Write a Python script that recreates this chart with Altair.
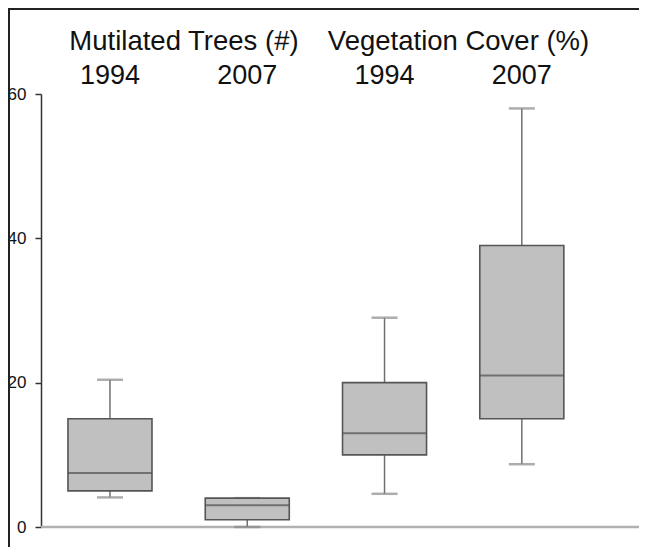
import altair as alt
import pandas as pd

# ---- data ----
groups = ["Mutilated Trees (#)", "Mutilated Trees (#)", "Vegetation Cover (%)", "Vegetation Cover (%)"]
years = ["1994", "2007", "1994", "2007"]
whisker_low = [4.1, 0.0, 4.6, 8.7]
q1 = [5.0, 1.0, 10.0, 15.0]
median = [7.5, 3.0, 13.0, 21.0]
q3 = [15.0, 4.0, 20.0, 39.0]
whisker_high = [20.4, 4.0, 29.0, 58.0]
y_ticks = [0, 20, 40, 60]
header_names = ["Mutilated Trees (#)", "Vegetation Cover (%)"]

keys = [f"{g}|{y}" for g, y in zip(groups, years)]
df = pd.DataFrame({
    "key": keys, "group": groups, "year": years,
    "lo": whisker_low, "q1": q1, "med": median, "q3": q3, "hi": whisker_high,
})
header_df = pd.DataFrame({"group": header_names, "key": [keys[0], keys[2]]})
frame_df = pd.DataFrame({"a": [0]})

FONT = "Liberation Sans"

x_scale = alt.Scale(domain=keys, paddingInner=0.388, paddingOuter=0.372, align=0.264)
y_scale = alt.Scale(domain=[0, 60], nice=False, zero=True)

x_axis = alt.Axis(
    orient="top", title=None, domain=False, ticks=False, tickSize=0,
    labelExpr="split(datum.label, '|')[1]", labelAngle=0,
    labelFontSize=27, labelFont=FONT, labelColor="#111111",
    labelPadding=11, labelBaseline="alphabetic",
)
y_axis = alt.Axis(
    values=y_ticks, title=None, grid=False,
    domainColor="#333333", domainWidth=1.5,
    tickColor="#333333", tickWidth=1.5, tickSize=6,
    labelFontSize=17, labelFont=FONT, labelColor="#111111", labelPadding=9,
)

base = alt.Chart(df)
X = alt.X("key:N", scale=x_scale, sort=keys, axis=x_axis)

whisk_lo = base.mark_rule(color="#707070", strokeWidth=1.5).encode(
    x=X, y=alt.Y("lo:Q", scale=y_scale, axis=y_axis), y2="q1:Q")
whisk_hi = base.mark_rule(color="#707070", strokeWidth=1.5).encode(
    x=X, y=alt.Y("q3:Q", scale=y_scale), y2="hi:Q")
cap_lo = base.mark_tick(color="#8a8a8a", size=26, thickness=2.5).encode(
    x=X, y=alt.Y("lo:Q", scale=y_scale))
cap_hi = base.mark_tick(color="#8a8a8a", size=26, thickness=2.5).encode(
    x=X, y=alt.Y("hi:Q", scale=y_scale))
box = base.mark_bar(fill="#c0c0c0", stroke="#555555", strokeWidth=1.6).encode(
    x=X, y=alt.Y("q1:Q", scale=y_scale), y2="q3:Q")
med = base.mark_tick(color="#505050", size=84, thickness=2).encode(
    x=X, y=alt.Y("med:Q", scale=y_scale))

baseline = alt.Chart(frame_df).mark_rule(color="#b0b0b0", strokeWidth=2.5).encode(
    y=alt.datum(0))

headers = alt.Chart(header_df).mark_text(
    font=FONT, fontSize=27.5, color="#111111", align="center",
    baseline="alphabetic", dx=74, dy=-44,
).encode(x=alt.X("key:N", scale=x_scale, sort=keys), y=alt.datum(60), text="group:N")

frame_left = alt.Chart(frame_df).mark_rect(color="#222222").encode(
    x=alt.value(-33), x2=alt.value(-31), y=alt.value(-86), y2=alt.value(470))
frame_top = alt.Chart(frame_df).mark_rect(color="#222222").encode(
    x=alt.value(-33), x2=alt.value(700), y=alt.value(-86), y2=alt.value(-84))

chart = alt.layer(
    baseline, whisk_lo, whisk_hi, cap_lo, cap_hi, box, med, headers, frame_left, frame_top
).properties(
    width=598, height=433,
    autosize=alt.AutoSizeParams(type="none"),
    padding={"left": 33, "top": 86, "right": 0, "bottom": 20},
    background="white",
).configure_view(stroke=None)

chart.save("out.html", embed_options={"renderer": "svg", "actions": False})
